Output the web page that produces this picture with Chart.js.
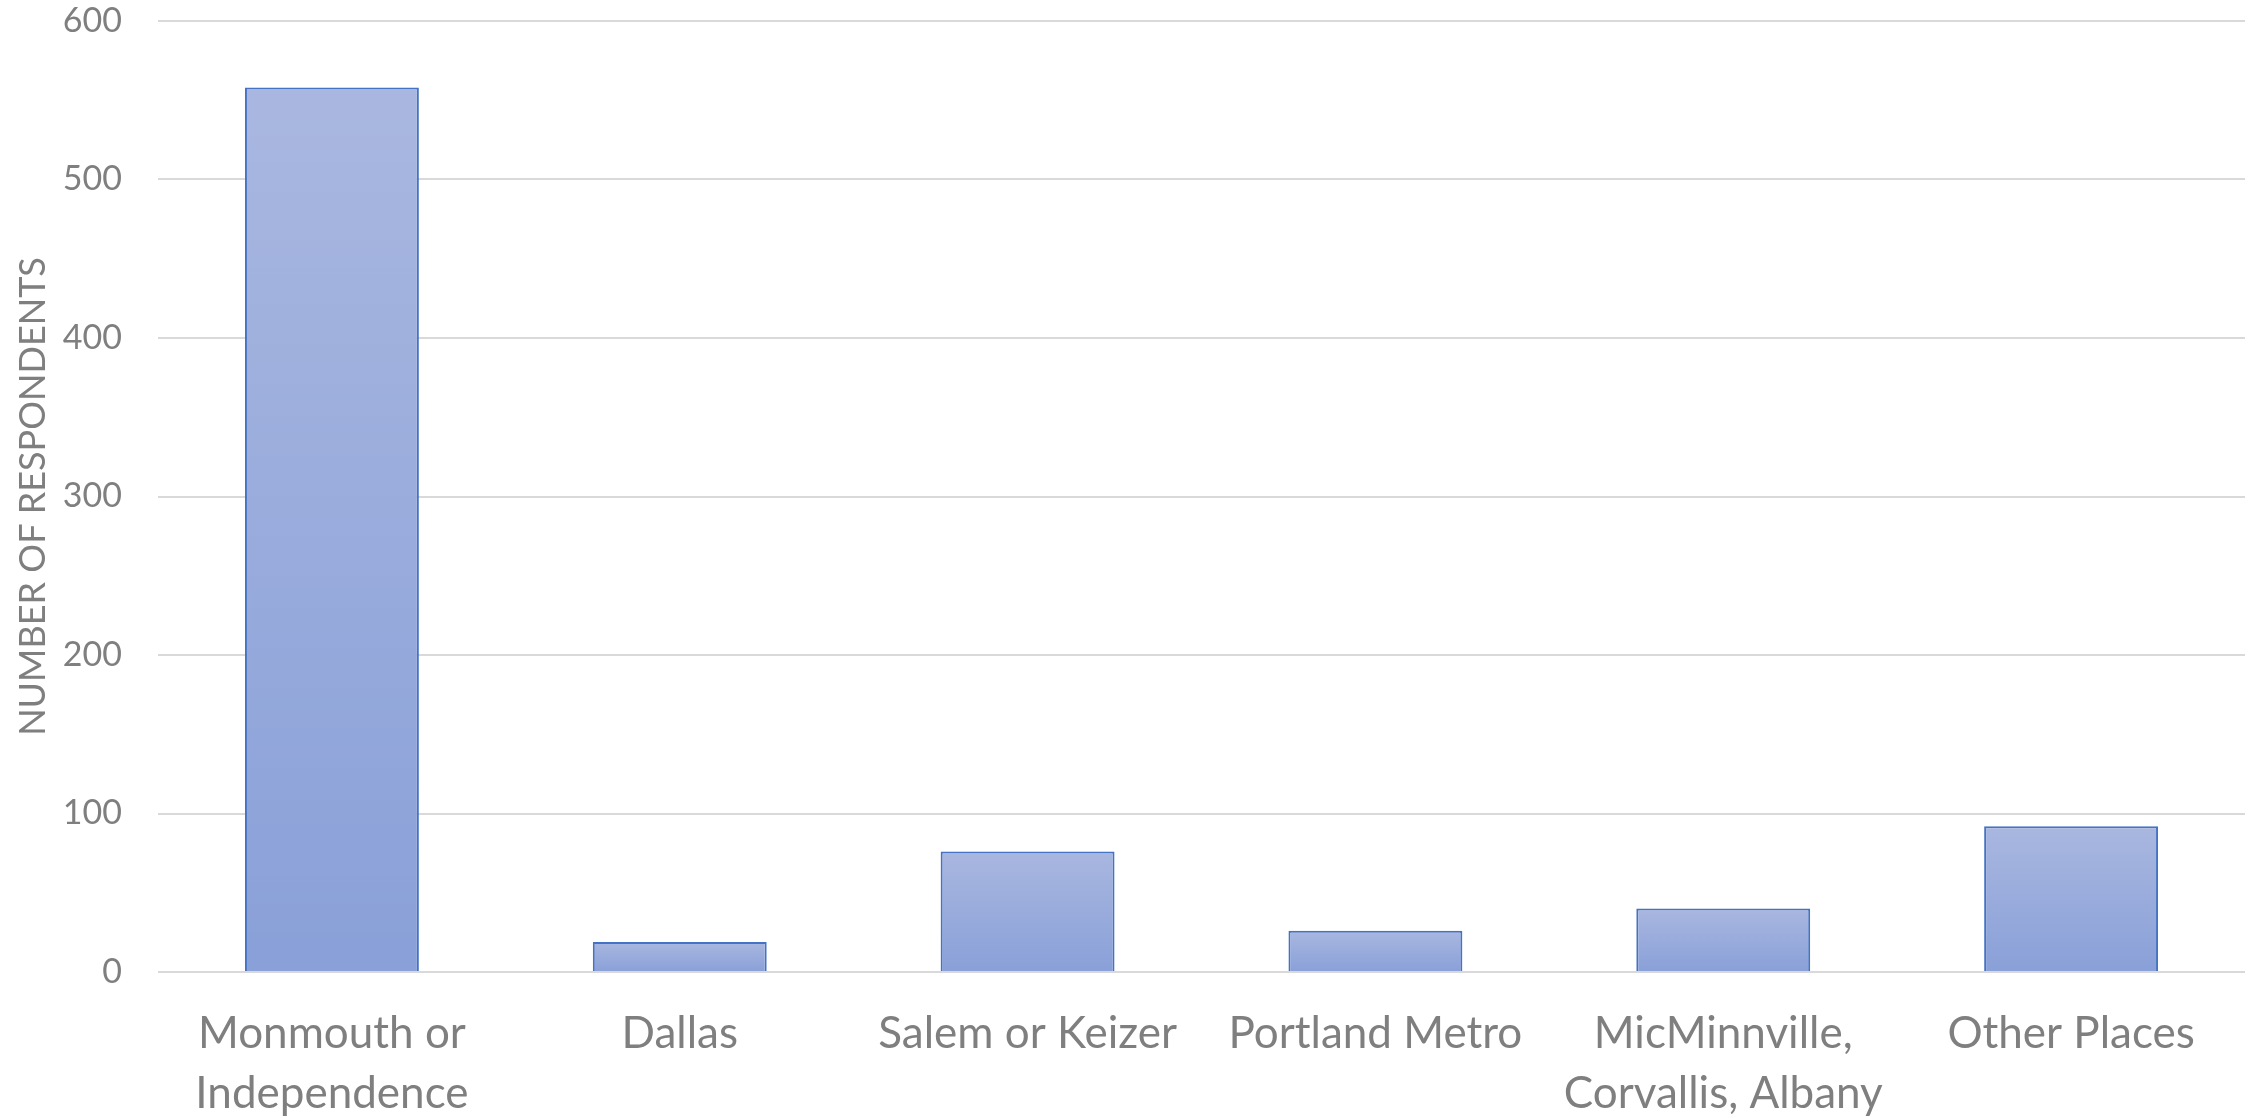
<!DOCTYPE html>
<html>
<head>
<meta charset="utf-8">
<script src="https://cdn.jsdelivr.net/npm/chart.js@4/dist/chart.umd.min.js"></script>
<style>
  html, body { margin: 0; padding: 0; background: #ffffff; }
  #wrap { width: 2257px; height: 1118px; }
</style>
</head>
<body>
<div id="wrap"><canvas id="c" width="2257" height="1118"></canvas></div>
<script>
const categories = [
  ["Monmouth or", "Independence"],
  "Dallas",
  "Salem or Keizer",
  "Portland Metro",
  ["MicMinnville,", "Corvallis, Albany"],
  "Other Places"
];
const respondents = [558, 19, 76, 26, 40, 92];
const yTicks = [0, 100, 200, 300, 400, 500, 600];
const yTitle = "NUMBER OF RESPONDENTS";

const labelColor = "#7f7f7f";
const fontFamily = "Lato, 'Open Sans', sans-serif";

function barGradient(ctx) {
  const chart = ctx.chart;
  const ys = chart.scales && chart.scales.y;
  if (!chart.chartArea || !ys || ctx.raw === undefined) return "#97a9db";
  const top = ys.getPixelForValue(ctx.raw);
  const base = ys.getPixelForValue(0);
  const g = chart.ctx.createLinearGradient(0, top, 0, base);
  g.addColorStop(0, "#a9b7e0");
  g.addColorStop(1, "#89a0d8");
  return g;
}

new Chart(document.getElementById("c"), {
  type: "bar",
  data: {
    labels: categories,
    datasets: [{
      data: respondents,
      backgroundColor: barGradient,
      borderColor: "#4472c4",
      borderWidth: 2,
      borderSkipped: "start",
      categoryPercentage: 1.0,
      barPercentage: 0.5
    }]
  },
  options: {
    responsive: false,
    animation: false,
    devicePixelRatio: 1,
    layout: { padding: { top: 21, right: 12, bottom: 0, left: 0 } },
    plugins: {
      legend: { display: false },
      tooltip: { enabled: false }
    },
    scales: {
      x: {
        grid: { display: false, drawTicks: false },
        border: { display: false },
        ticks: {
          color: labelColor,
          font: { family: fontFamily, size: 44, lineHeight: 1.36 },
          padding: 32,
          maxRotation: 0,
          autoSkip: false
        },
        afterFit: (s) => { s.height = 146; s.paddingLeft = 0; s.paddingRight = 0; }
      },
      y: {
        min: 0,
        max: 600,
        afterBuildTicks: (s) => { s.ticks = yTicks.map(v => ({ value: v })); },
        grid: { color: "#d9d9d9", lineWidth: 2, drawTicks: false },
        border: { display: false },
        ticks: {
          color: labelColor,
          font: { family: fontFamily, size: 34 },
          padding: 36
        },
        title: {
          display: true,
          text: yTitle,
          color: labelColor,
          font: { family: fontFamily, size: 36, lineHeight: 1 },
          padding: { top: 15, bottom: 0 }
        },
        afterFit: (s) => { s.width = 158; s.paddingTop = 0; s.paddingBottom = 0; }
      }
    }
  }
});
</script>
</body>
</html>
